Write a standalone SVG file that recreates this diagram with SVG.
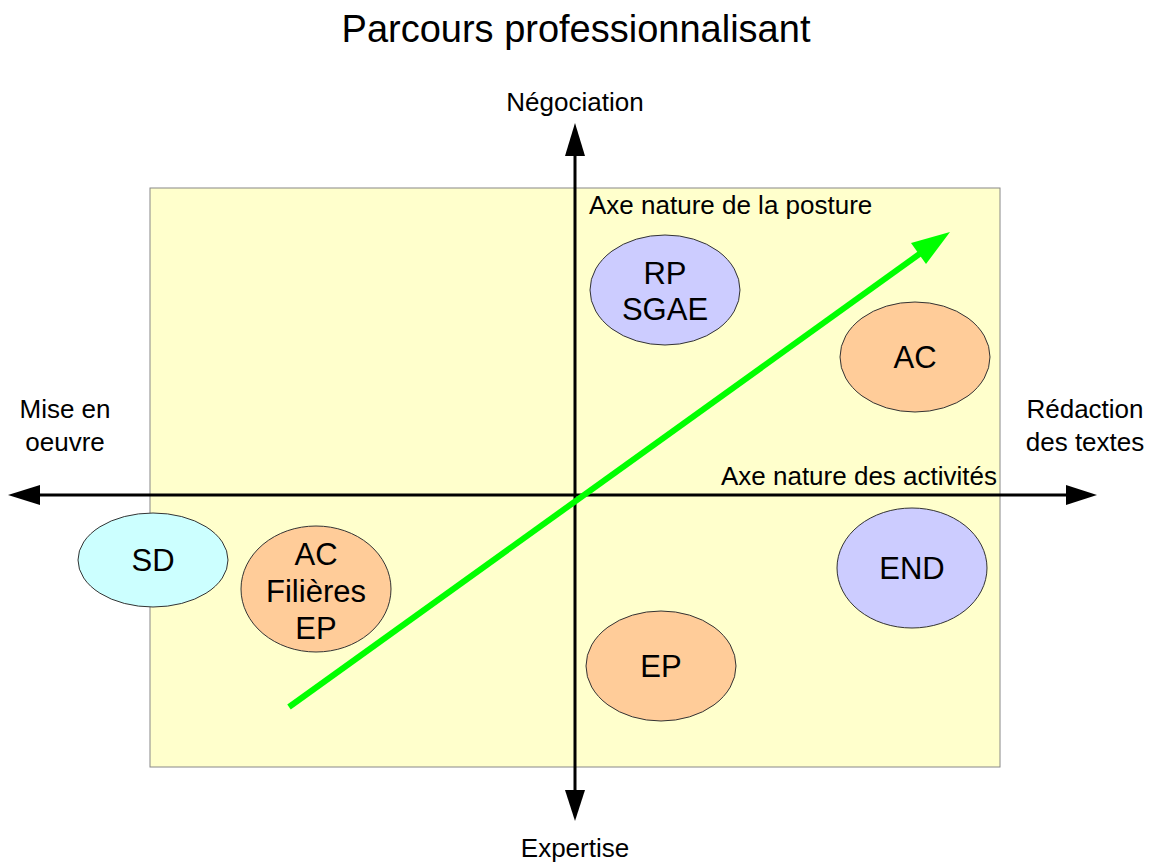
<svg xmlns="http://www.w3.org/2000/svg" width="1152" height="863" viewBox="0 0 1152 863">
<style>
text{font-family:"Liberation Sans",Arial,sans-serif;fill:#000}
.lbl{font-size:26px}
.node{font-size:31px;text-anchor:middle}
.ell{stroke:#333;stroke-width:1}
.ax{stroke:#000;stroke-width:3;fill:none}
</style>
<rect width="1152" height="863" fill="#fff"/>
<text x="576" y="42" font-size="38" text-anchor="middle">Parcours professionnalisant</text>
<rect x="150" y="188" width="850" height="579" fill="#ffffcc" stroke="#888" stroke-width="1"/>
<g id="connectors">
<line class="ax" x1="575" y1="150" x2="575" y2="795"/>
<polygon points="575,123 565,156 585,156"/>
<polygon points="575,821 565,790 585,790"/>
<line class="ax" x1="38" y1="495" x2="1070" y2="495"/>
<polygon points="8,495 40,485 40,505"/>
<polygon points="1097,495 1066,485 1066,505"/>
<line x1="289" y1="707" x2="925" y2="250" stroke="#00ff00" stroke-width="6"/>
<polygon points="950,232 911,243 926,264" fill="#00ff00"/>
</g>
<text class="lbl" x="575" y="111" text-anchor="middle">Négociation</text>
<text class="lbl" x="575" y="857" text-anchor="middle">Expertise</text>
<text class="lbl" x="589" y="214">Axe nature de la posture</text>
<text class="lbl" x="997" y="485" text-anchor="end">Axe nature des activités</text>
<text class="lbl" x="65" y="418" text-anchor="middle">Mise en</text>
<text class="lbl" x="65" y="451" text-anchor="middle">oeuvre</text>
<text class="lbl" x="1085" y="418" text-anchor="middle">Rédaction</text>
<text class="lbl" x="1085" y="451" text-anchor="middle">des textes</text>
<g id="sd"><ellipse class="ell" cx="153" cy="560" rx="75" ry="47" fill="#ccffff"/><text class="node" x="153" y="571">SD</text></g>
<g id="ac-filieres"><ellipse class="ell" cx="316" cy="589" rx="75" ry="63" fill="#ffcc99"/><text class="node" x="316" y="565">AC</text><text class="node" x="316" y="602">Filières</text><text class="node" x="316" y="639">EP</text></g>
<g id="rp-sgae"><ellipse class="ell" cx="665" cy="290" rx="75" ry="55" fill="#ccccff"/><text class="node" x="665" y="284">RP</text><text class="node" x="665" y="320">SGAE</text></g>
<g id="ac"><ellipse class="ell" cx="915" cy="357" rx="75" ry="55" fill="#ffcc99"/><text class="node" x="915" y="368">AC</text></g>
<g id="end"><ellipse class="ell" cx="912" cy="568" rx="75" ry="60" fill="#ccccff"/><text class="node" x="912" y="579">END</text></g>
<g id="ep"><ellipse class="ell" cx="661" cy="666" rx="75" ry="55" fill="#ffcc99"/><text class="node" x="661" y="677">EP</text></g>
</svg>
